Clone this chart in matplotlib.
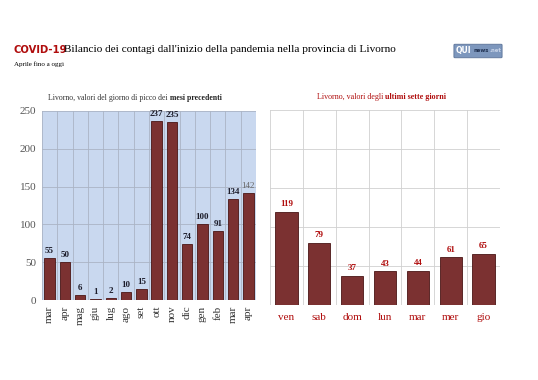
import matplotlib.pyplot as plt
from matplotlib.patches import FancyBboxPatch

mesi = ["mar", "apr", "mag", "giu", "lug", "ago", "set", "ott", "nov", "dic", "gen", "feb", "mar", "apr"]
picchi = [55, 50, 6, 1, 2, 10, 15, 237, 235, 74, 100, 91, 134, 142]

giorni = ["ven", "sab", "dom", "lun", "mar", "mer", "gio"]
ultimi = [119, 79, 37, 43, 44, 61, 65]

bar_col = "#7b3131"
edge_col = "#4a1515"
red = "#b00d0d"
serif = "Liberation Serif"

fig = plt.figure(figsize=(5.38, 3.8), dpi=100)
fig.patch.set_facecolor("white")

# titles
fig.text(14/538, 1-50/380, "COVID-19", color=red, fontsize=7.2, fontweight="bold",
         family="DejaVu Sans", va="center")
fig.text(64/538, 1-50/380, "Bilancio dei contagi dall'inizio della pandemia nella provincia di Livorno",
         fontsize=8.1, family=serif, va="center")
fig.text(14/538, 1-64/380, "Aprile fino a oggi", fontsize=5, family=serif, va="center")

# logo
logo = FancyBboxPatch((455/538, 1-57/380), 46/538, 12/380, boxstyle="round,pad=0.002",
                      transform=fig.transFigure, facecolor="#7d97bd", edgecolor="#5a7298", lw=0.6)
fig.patches.append(logo)
fig.text(456/538, 1-51/380, "QUI", color="white", fontsize=5.5, fontweight="bold",
         family="DejaVu Sans", va="center")
fig.text(474/538, 1-51/380, "news", color="#1f3050", fontsize=3.8, fontweight="bold",
         family="DejaVu Sans", va="center")
fig.text(489/538, 1-51/380, ".net", color="#c8d4e8", fontsize=3.8, fontweight="bold",
         family="DejaVu Sans", va="center")

# left chart
ax1 = fig.add_axes([42/538, 1-300/380, 214/538, 189/380])
ax1.set_facecolor("#c9d8ef")
x1 = range(len(mesi))
ax1.bar(x1, picchi, width=0.68, color=bar_col, edgecolor=edge_col, linewidth=0.6, zorder=3)
ax1.set_xlim(-0.5, len(mesi)-0.5)
ax1.set_ylim(0, 250)
ax1.set_yticks(range(0, 251, 50))
ax1.set_xticks(list(x1))
ax1.set_xticklabels(mesi, rotation=90, family=serif, fontsize=8, color="#333333")
for lab in ax1.get_yticklabels():
    lab.set_family(serif)
    lab.set_fontsize(8)
    lab.set_color("#555555")
ax1.tick_params(length=0, pad=4)
ax1.yaxis.grid(True, color="#aab4c4", lw=0.6, zorder=0)
for i in range(len(mesi)+1):
    ax1.axvline(i-0.5, color="#aab4c4", lw=0.6, zorder=0)
for s in ax1.spines.values():
    s.set_visible(False)
for i, v in enumerate(picchi):
    last = i == len(picchi)-1
    ax1.text(i, v+4, str(v), ha="center", va="bottom", family=serif, fontsize=6.5,
             fontweight="normal" if last else "bold",
             color="#666666" if last else "#1c1c2a")
fig.text(168/538, 1-98/380, "Livorno, valori del giorno di picco dei", fontsize=5.6,
         family=serif, ha="right", va="center", color="#333333")
fig.text(170/538, 1-98/380, "mesi precedenti", fontsize=5.6, family=serif,
         fontweight="bold", ha="left", va="center", color="#222222")

# right chart
ax2 = fig.add_axes([270/538, 1-305/380, 230/538, 195/380])
ax2.set_facecolor("white")
x2 = range(len(giorni))
ax2.bar(x2, ultimi, width=0.68, color=bar_col, edgecolor=edge_col, linewidth=0.6, zorder=3)
ax2.set_xlim(-0.5, len(giorni)-0.5)
ax2.set_ylim(0, 250)
ax2.set_yticks(range(0, 251, 50))
ax2.set_yticklabels([])
ax2.set_xticks(list(x2))
ax2.set_xticklabels(giorni, family=serif, fontsize=8, color=red)
ax2.tick_params(length=0, pad=6)
ax2.yaxis.grid(True, color="#d0d0d0", lw=0.6, zorder=0)
for i in range(len(giorni)+1):
    ax2.axvline(i-0.5, color="#d0d0d0", lw=0.6, zorder=0)
for s in ax2.spines.values():
    s.set_visible(False)
for i, v in enumerate(ultimi):
    ax2.text(i, v+5, str(v), ha="center", va="bottom", family=serif, fontsize=6.5,
             fontweight="bold", color=red)
fig.text(383/538, 1-97/380, "Livorno, valori degli", fontsize=5.8,
         family=serif, ha="right", va="center", color=red)
fig.text(385/538, 1-97/380, "ultimi sette giorni", fontsize=5.8, family=serif,
         fontweight="bold", ha="left", va="center", color=red)

fig.savefig("out.png", dpi=100)
